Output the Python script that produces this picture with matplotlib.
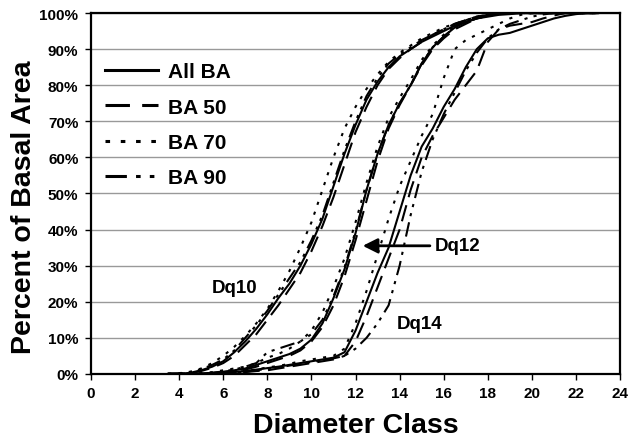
import numpy as np
import matplotlib
matplotlib.use("Agg")
import matplotlib.pyplot as plt
from matplotlib.ticker import FuncFormatter

plt.rcParams['font.family'] = ['Liberation Sans', 'DejaVu Sans']
plt.rcParams['font.weight'] = 'bold'

# diameter classes shared by all series
diam = [3.5, 4, 4.5, 5, 5.5, 6, 6.5, 7, 7.5, 8, 8.5, 9, 9.5, 10, 10.5, 11, 11.5, 12,
        12.5, 13, 13.5, 14, 14.5, 15, 15.5, 16, 16.5, 17, 17.5, 18, 18.5, 19, 19.5,
        20, 20.5, 21, 21.5, 22, 22.5, 23]

# Dq10 group
dq10_all = [0, 0, 0.3, 1, 2, 3.5, 6, 9, 12.5, 16.5, 21, 25, 30, 36, 43, 52, 61, 69,
            76, 81, 85, 88, 90, 92, 93.5, 95, 96.5, 97.5, 98.5, 99, 99.5, 99.7, 100,
            100, 100, 100, 100, 100, 100, 100]
dq10_50 = [0, 0, 0.2, 0.8, 1.7, 3, 5, 8, 11, 15, 19, 23.5, 28, 34, 41, 49, 58, 67,
           74, 80, 84.5, 87.5, 90, 92, 94, 95.5, 97, 98, 99, 99.5, 100, 100, 100,
           100, 100, 100, 100, 100, 100, 100]
dq10_70 = [0, 0.2, 0.6, 1.5, 3, 5, 7.5, 10.5, 14, 18, 23, 28.5, 35, 42, 51, 60, 68, 74,
           79, 83, 86.5, 89, 91, 93, 94.5, 96, 97, 98, 99, 99.5, 99.8, 100, 100,
           100, 100, 100, 100, 100, 100, 100]
dq10_90 = [0, 0.1, 0.5, 1.3, 2.5, 4, 6.5, 10, 13.5, 17.5, 22, 26.5, 31, 37, 44, 53, 62, 70,
           77, 82, 86, 88.5, 90.5, 92.5, 94, 95.5, 97, 98, 99, 99.5, 100, 100, 100,
           100, 100, 100, 100, 100, 100, 100]

# Dq12 group
dq12_all = [0, 0, 0, 0.1, 0.3, 0.6, 1, 1.5, 2.5, 3.5, 4.5, 5.5, 7, 9.5, 14, 21, 29, 39,
            51, 61, 69, 75, 80, 86, 90.5, 93.5, 96, 97.5, 98.5, 99.3, 99.7, 100, 100,
            100, 100, 100, 100, 100, 100, 100]
dq12_50 = [0, 0, 0, 0, 0.2, 0.5, 0.8, 1.2, 2, 3, 4, 5, 6.5, 9, 13, 19, 27, 37,
           48, 59, 68, 74.5, 80, 85.5, 90, 93, 95.5, 97, 98.5, 99.3, 99.7, 100, 100,
           100, 100, 100, 100, 100, 100, 100]
dq12_70 = [0, 0, 0.1, 0.2, 0.5, 1, 1.5, 2, 3, 4.5, 5.5, 7, 9, 12, 17, 24, 32, 42,
           53, 63, 71, 76.5, 81.5, 87, 91, 94, 96.5, 98, 99, 99.5, 100, 100, 100,
           100, 100, 100, 100, 100, 100, 100]
dq12_90 = [0, 0, 0, 0.1, 0.3, 0.7, 1.2, 2, 3, 6, 7, 8, 9, 11, 15, 21.5, 29.5, 39.5,
           51, 61, 69, 75, 80, 86, 90.5, 93.5, 96, 97.5, 98.5, 99.3, 99.8, 100, 100,
           100, 100, 100, 100, 100, 100, 100]

# Dq14 group
dq14_all = [0, 0, 0, 0, 0.1, 0.3, 0.5, 0.8, 1.2, 1.6, 2, 2.5, 3, 3.5, 4, 4.5, 6, 12,
            20, 28, 35, 45, 55, 63, 68, 74, 79, 85, 90, 93, 94, 94.5, 95.5,
            96.5, 97.5, 98.5, 99.2, 99.7, 100, 100]
dq14_50 = [0, 0, 0, 0, 0.1, 0.2, 0.3, 0.5, 0.8, 1, 1.5, 2, 2.5, 3, 3.5, 4, 5, 9,
           16, 24, 32, 40, 51, 60, 66, 71, 76, 80, 84, 92, 95.5, 96.5, 97,
           97.5, 98.5, 99.3, 100, 100, 100, 100]
dq14_70 = [0, 0, 0, 0, 0.1, 0.3, 0.5, 0.8, 1.2, 1.8, 2.2, 2.8, 3.5, 4, 4.5, 5, 7, 14,
           23, 33, 43, 52, 59, 66, 72, 82, 90, 92.5, 94, 95.5, 97, 98.5, 99.5,
           100, 100, 100, 100, 100, 100, 100]
dq14_90 = [0, 0, 0, 0, 0.1, 0.2, 0.4, 0.6, 1, 1.4, 1.8, 2.3, 2.8, 3.3, 3.8, 4.3, 5, 7,
           10, 14, 19, 30, 44, 56, 65, 72, 78, 84, 89, 93, 95.5, 97, 98,
           99, 99.6, 100, 100, 100, 100, 100]

labels = ['All BA', 'BA 50', 'BA 70', 'BA 90']
styles = ['-', (0, (8, 4)), (0, (1.5, 3.5)), (0, (7, 3, 1.5, 3, 1.5, 3))]

groups = [
    [dq10_all, dq10_50, dq10_70, dq10_90],
    [dq12_all, dq12_50, dq12_70, dq12_90],
    [dq14_all, dq14_50, dq14_70, dq14_90],
]

fig = plt.figure(figsize=(6.36, 4.39), dpi=100)
ax = fig.add_axes([0.143, 0.146, 0.832, 0.822])

for g, group in enumerate(groups):
    for i, vals in enumerate(group):
        ax.plot(diam, np.array(vals) / 100, color='black', lw=1.5,
                linestyle=styles[i], label=labels[i] if g == 0 else None)

ax.set_xlim(0, 24)
ax.set_ylim(0, 1)
ax.set_xticks(range(0, 25, 2))
ax.set_yticks(np.arange(0, 1.01, 0.1))
ax.yaxis.set_major_formatter(FuncFormatter(lambda v, p: f'{v * 100:.0f}%'))
ax.grid(axis='y', color='#999999', lw=1)
ax.set_axisbelow(True)
for s in ax.spines.values():
    s.set_linewidth(1.6)
ax.tick_params(labelsize=11, length=4, width=1, direction='out', pad=5)
for t in ax.get_xticklabels() + ax.get_yticklabels():
    t.set_fontweight('bold')

ax.set_xlabel('Diameter Class', fontsize=20.5, fontweight='bold')
ax.set_ylabel('Percent of Basal Area', fontsize=20.5, fontweight='bold')
ax.xaxis.set_label_coords(0.5, -0.105)
ax.yaxis.set_label_coords(-0.102, 0.465)

leg = ax.legend(loc='upper left', bbox_to_anchor=(-0.008, 0.915), frameon=False,
                fontsize=15, handlelength=2.5, handletextpad=0.5,
                labelspacing=0.78, borderaxespad=0.5)
for line in leg.get_lines():
    line.set_linewidth(2.2)

ax.text(6.5, 0.24, 'Dq10', fontsize=13.5, fontweight='bold', ha='center', va='center')
ax.text(15.6, 0.355, 'Dq12', fontsize=13.5, fontweight='bold', ha='left', va='center')
ax.text(14.9, 0.14, 'Dq14', fontsize=13.5, fontweight='bold', ha='center', va='center')
ax.annotate('', xy=(12.2, 0.355), xytext=(15.5, 0.355),
            arrowprops=dict(arrowstyle='-|>', color='black', lw=2, mutation_scale=22))

fig.savefig('out.png', dpi=100)
